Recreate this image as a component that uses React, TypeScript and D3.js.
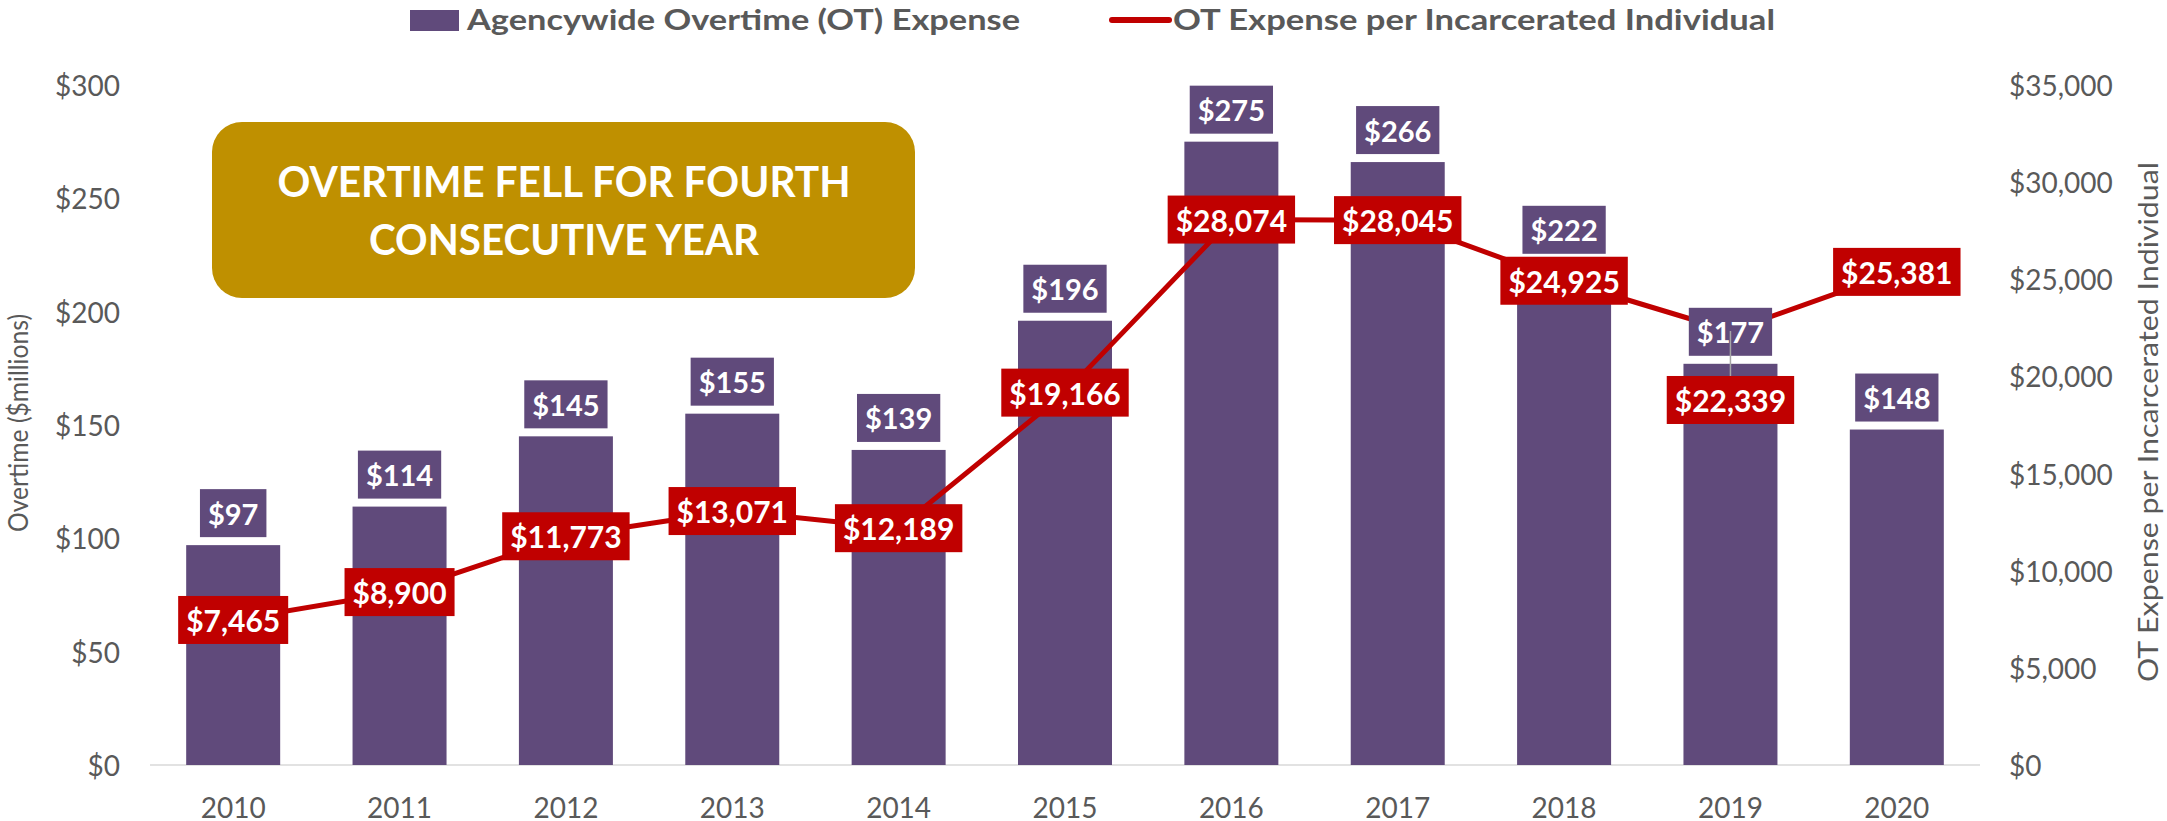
import React, { useEffect, useRef } from 'react';
import * as d3 from 'd3';

const years = ['2010', '2011', '2012', '2013', '2014', '2015', '2016', '2017', '2018', '2019', '2020'];
const overtimeMillions = [97, 114, 145, 155, 139, 196, 275, 266, 222, 177, 148];
const otPerIndividual = [7465, 8900, 11773, 13071, 12189, 19166, 28074, 28045, 24925, 22339, 25381];
const lineLabelBelow = [false, false, false, false, false, false, false, false, false, true, false];
const leftTicks = [0, 50, 100, 150, 200, 250, 300];
const rightTicks = [0, 5000, 10000, 15000, 20000, 25000, 30000, 35000];

const W = 2167;
const H = 821;
const PURPLE = '#604A7B';
const RED = '#C00000';
const GOLD = '#BF9000';
const GRAY = '#595959';
const FONT = 'Lato, "Open Sans", sans-serif';

export default function App() {
  const ref = useRef<SVGSVGElement>(null);

  useEffect(() => {
    const svg = d3.select(ref.current);
    svg.selectAll('*').remove();

    const x0 = 150, x1 = 1980, yBase = 765, yTop = 85;
    const x = d3.scaleBand<string>().domain(years).range([x0, x1]).paddingInner(0.435).paddingOuter(0.2175);
    const yL = d3.scaleLinear().domain([0, 300]).range([yBase, yTop]);
    const yR = d3.scaleLinear().domain([0, 35000]).range([yBase, yTop]);
    const cx = (y: string) => (x(y) as number) + x.bandwidth() / 2;

    const boxLabel = (g: any, cxp: number, cyp: number, text: string, fill: string, fs: number) => {
      const grp = g.append('g');
      const rect = grp.append('rect');
      const t = grp.append('text')
        .attr('x', cxp).attr('y', cyp)
        .attr('text-anchor', 'middle').attr('dominant-baseline', 'central')
        .attr('font-family', FONT).attr('font-weight', 700).attr('font-size', fs)
        .attr('fill', '#fff').text(text);
      const w = (t.node() as SVGTextElement).getComputedTextLength();
      const pad = 8, h = 48;
      rect.attr('x', cxp - w / 2 - pad).attr('y', cyp - h / 2)
        .attr('width', w + pad * 2).attr('height', h).attr('fill', fill);
    };

    // Legend
    const lg = svg.append('g');
    lg.append('rect').attr('x', 410).attr('y', 10).attr('width', 49).attr('height', 21).attr('fill', PURPLE);
    lg.append('text').attr('x', 467).attr('y', 30).attr('font-family', FONT).attr('font-weight', 700)
      .attr('font-size', 28).attr('fill', GRAY).attr('textLength', 553).attr('lengthAdjust', 'spacingAndGlyphs')
      .text('Agencywide Overtime (OT) Expense');
    lg.append('line').attr('x1', 1112).attr('x2', 1169).attr('y1', 20).attr('y2', 20)
      .attr('stroke', RED).attr('stroke-width', 6).attr('stroke-linecap', 'round');
    lg.append('text').attr('x', 1173).attr('y', 30).attr('font-family', FONT).attr('font-weight', 700)
      .attr('font-size', 28).attr('fill', GRAY).attr('textLength', 602).attr('lengthAdjust', 'spacingAndGlyphs')
      .text('OT Expense per Incarcerated Individual');

    // Axis baseline
    svg.append('line').attr('x1', x0).attr('x2', x1).attr('y1', yBase).attr('y2', yBase)
      .attr('stroke', '#D9D9D9').attr('stroke-width', 1.5);

    // Left ticks
    svg.append('g').selectAll('text').data(leftTicks).join('text')
      .attr('x', 120).attr('y', (d) => yL(d)).attr('text-anchor', 'end').attr('dominant-baseline', 'central')
      .attr('font-family', FONT).attr('font-size', 28).attr('fill', GRAY)
      .text((d) => d3.format('$,')(d));

    // Right ticks
    svg.append('g').selectAll('text').data(rightTicks).join('text')
      .attr('x', 2009).attr('y', (d) => yR(d)).attr('text-anchor', 'start').attr('dominant-baseline', 'central')
      .attr('font-family', FONT).attr('font-size', 28).attr('fill', GRAY)
      .text((d) => d3.format('$,')(d));

    // X labels
    svg.append('g').selectAll('text').data(years).join('text')
      .attr('x', (d) => cx(d)).attr('y', 807).attr('text-anchor', 'middle').attr('dominant-baseline', 'central')
      .attr('font-family', FONT).attr('font-size', 28).attr('fill', GRAY)
      .text((d) => d);

    // Axis titles
    svg.append('text').attr('transform', 'translate(28,423) rotate(-90)').attr('text-anchor', 'middle')
      .attr('font-family', FONT).attr('font-size', 27).attr('fill', GRAY)
      .attr('textLength', 218).attr('lengthAdjust', 'spacingAndGlyphs')
      .text('Overtime ($millions)');
    svg.append('text').attr('transform', 'translate(2158,422) rotate(-90)').attr('text-anchor', 'middle')
      .attr('font-family', FONT).attr('font-size', 27).attr('fill', GRAY)
      .attr('textLength', 520).attr('lengthAdjust', 'spacingAndGlyphs')
      .text('OT Expense per Incarcerated Individual');

    // Bars
    svg.append('g').selectAll('rect').data(years).join('rect')
      .attr('x', (d) => x(d) as number).attr('width', x.bandwidth())
      .attr('y', (_d, i) => yL(overtimeMillions[i]))
      .attr('height', (_d, i) => yBase - yL(overtimeMillions[i]))
      .attr('fill', PURPLE);

    // Line
    const line = d3.line<number>().x((_d, i) => cx(years[i])).y((d) => yR(d));
    svg.append('path').datum(otPerIndividual).attr('d', line as any)
      .attr('fill', 'none').attr('stroke', RED).attr('stroke-width', 5).attr('stroke-linejoin', 'round');

    // Bar labels
    const bl = svg.append('g');
    years.forEach((yr, i) => {
      const top = yL(overtimeMillions[i]);
      boxLabel(bl, cx(yr), top - 8 - 24, `$${overtimeMillions[i]}`, PURPLE, 29);
    });

    // Line labels
    const ll = svg.append('g');
    years.forEach((yr, i) => {
      const py = yR(otPerIndividual[i]);
      if (lineLabelBelow[i]) {
        const cy = py + 69;
        boxLabel(ll, cx(yr), cy, d3.format('$,')(otPerIndividual[i]), RED, 30);
        ll.append('line').attr('x1', cx(yr)).attr('x2', cx(yr)).attr('y1', py).attr('y2', cy - 24)
          .attr('stroke', '#A6A6A6').attr('stroke-width', 1.5);
      } else {
        boxLabel(ll, cx(yr), py, d3.format('$,')(otPerIndividual[i]), RED, 30);
      }
    });

    // Annotation box
    const ann = svg.append('g');
    ann.append('rect').attr('x', 212).attr('y', 122).attr('width', 703).attr('height', 176)
      .attr('rx', 30).attr('ry', 30).attr('fill', GOLD);
    ann.append('text').attr('x', 564).attr('y', 197).attr('text-anchor', 'middle')
      .attr('font-family', FONT).attr('font-weight', 700).attr('font-size', 42).attr('fill', '#fff')
      .attr('textLength', 573).attr('lengthAdjust', 'spacingAndGlyphs')
      .text('OVERTIME FELL FOR FOURTH');
    ann.append('text').attr('x', 564).attr('y', 255).attr('text-anchor', 'middle')
      .attr('font-family', FONT).attr('font-weight', 700).attr('font-size', 42).attr('fill', '#fff')
      .attr('textLength', 390).attr('lengthAdjust', 'spacingAndGlyphs')
      .text('CONSECUTIVE YEAR');
  }, []);

  return (
    <svg
      ref={ref}
      width={W}
      height={H}
      style={{ position: 'absolute', left: 0, top: 0, display: 'block', background: '#fff' }}
    />
  );
}
